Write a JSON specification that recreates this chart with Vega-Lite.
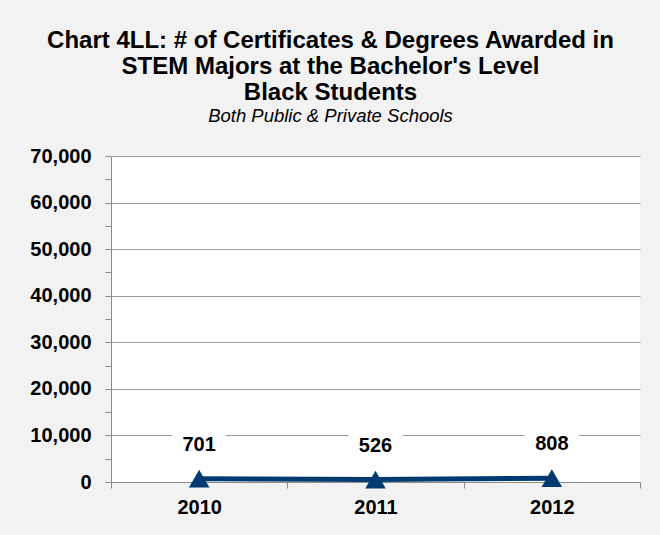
{
  "$schema": "https://vega.github.io/schema/vega-lite/v6.json",
  "width": 529,
  "height": 326,
  "autosize": {"type": "none"},
  "padding": {"left": 111, "top": 156, "right": 20, "bottom": 53},
  "background": "#f2f2f2",
  "title": {
    "text": ["Chart 4LL: # of Certificates & Degrees Awarded in", "STEM Majors at the Bachelor's Level", "Black Students"],
    "subtitle": "Both Public & Private Schools",
    "anchor": "middle",
    "frame": "group",
    "dx": -45,
    "font": "Liberation Sans",
    "fontSize": 24,
    "fontWeight": "bold",
    "color": "#000000",
    "lineHeight": 26,
    "subtitleFont": "Liberation Sans",
    "subtitleFontSize": 18.5,
    "subtitleFontStyle": "italic",
    "subtitleColor": "#000000",
    "subtitlePadding": 2,
    "offset": 21
  },
  "data": {
    "values": [
      {"year": "2010", "count": 701},
      {"year": "2011", "count": 526},
      {"year": "2012", "count": 808}
    ]
  },
  "encoding": {
    "x": {
      "field": "year",
      "type": "ordinal",
      "bandPosition": 0.5,
      "scale": {"type": "band", "paddingInner": 0, "paddingOuter": 0},
      "axis": {
        "title": null,
        "labelAngle": 0,
        "labelFont": "Liberation Sans",
        "labelFontSize": 20,
        "labelFontWeight": "bold",
        "labelColor": "#000000",
        "labelPadding": 9,
        "tickBand": "extent",
        "tickSize": 6,
        "tickColor": "#8c8c8c",
        "domainColor": "#8c8c8c",
        "grid": false
      }
    },
    "y": {
      "field": "count",
      "type": "quantitative",
      "scale": {"domain": [0, 70000], "nice": false},
      "axis": {
        "title": null,
        "values": [0, 5000, 10000, 15000, 20000, 25000, 30000, 35000, 40000, 45000, 50000, 55000, 60000, 65000, 70000],
        "labelExpr": "datum.value % 10000 === 0 ? format(datum.value, ',') : ''",
        "labelFont": "Liberation Sans",
        "labelFontSize": 20,
        "labelFontWeight": "bold",
        "labelColor": "#000000",
        "labelPadding": 14,
        "tickSize": 6,
        "tickColor": "#8c8c8c",
        "domainColor": "#8c8c8c",
        "grid": true,
        "gridColor": "#9a9a9a",
        "gridOpacity": {"condition": {"test": "datum.value % 10000 === 0", "value": 1}, "value": 0}
      }
    }
  },
  "layer": [
    {
      "mark": {"type": "line", "color": "#003a70", "strokeWidth": 5}
    },
    {
      "mark": {"type": "point", "shape": "triangle-up", "filled": true, "size": 420, "color": "#003a70", "opacity": 1}
    },
    {
      "mark": {"type": "rect", "width": 54, "height": 26, "fill": "#ffffff", "yOffset": -34}
    },
    {
      "mark": {"type": "text", "dy": -34, "baseline": "middle", "font": "Liberation Sans", "fontSize": 20, "fontWeight": "bold", "color": "#000000"},
      "encoding": {"text": {"field": "count", "type": "quantitative", "format": ","}}
    }
  ],
  "config": {
    "view": {"fill": "#ffffff", "stroke": null}
  }
}
